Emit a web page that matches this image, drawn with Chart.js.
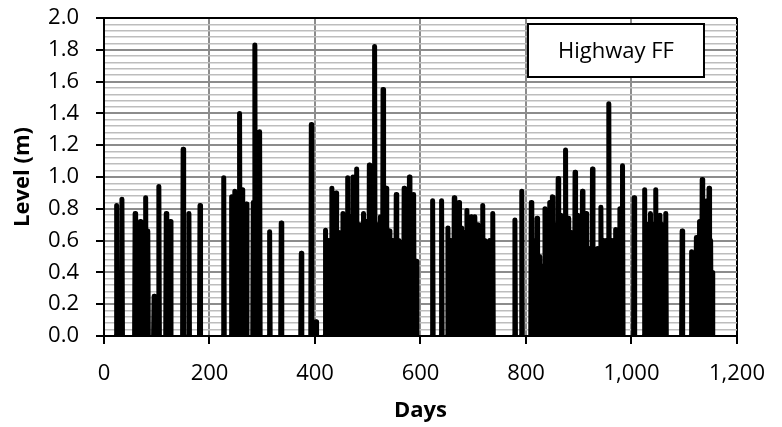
<!DOCTYPE html>
<html>
<head>
<meta charset="utf-8">
<script src="https://cdn.jsdelivr.net/npm/chart.js@4.4.1/dist/chart.umd.min.js"></script>
<style>
  body { margin: 0; background: #fff; }
</style>
</head>
<body>
<canvas id="levelChart" width="782" height="427"></canvas>
<script>
// Peak levels of each event (day, level in m)
const peakDays = [24, 34, 59, 69, 79, 83, 95, 104, 118, 126, 150, 161, 182,
  227, 242, 248, 257, 262, 270, 283, 286, 295, 314, 336, 374, 393, 402,
  420, 426, 432, 440, 446, 453, 458, 462, 467, 472, 479, 485, 492, 497, 503, 508, 513, 517, 521, 524, 529, 535, 541,
  547, 554, 558, 563, 569, 574, 579, 583, 587, 592,
  623, 640, 652, 657, 664, 668, 673, 678, 683, 688, 692, 696, 700, 703, 709, 713, 718, 721, 725, 731, 737,
  779, 792, 810, 815, 821, 826, 830, 836, 840, 845, 850, 855, 861, 866, 870, 875, 881, 886, 893, 898, 902, 907,
  910, 914, 919, 926, 931, 936, 942, 947, 952, 957, 962, 970, 975, 978, 983,
  1005, 1025, 1030, 1036, 1041, 1046, 1050, 1054, 1059, 1065, 1096,
  1114, 1118, 1123, 1129, 1134, 1139, 1143, 1147, 1150, 1153];
const peakLevels = [0.82, 0.86, 0.77, 0.72, 0.87, 0.66, 0.25, 0.94, 0.77, 0.72, 1.175, 0.77, 0.82,
  0.995, 0.876, 0.91, 1.40, 0.92, 0.83, 0.84, 1.83, 1.285, 0.656, 0.71, 0.52, 1.33, 0.09,
  0.665, 0.6, 0.93, 0.90, 0.65, 0.77, 0.7, 0.995, 0.75, 1.0, 1.05, 0.7, 0.77, 0.72, 1.075, 0.75, 1.82, 0.7, 0.70, 0.75, 1.55, 0.93, 0.66,
  0.6, 0.89, 0.6, 0.59, 0.93, 0.75, 1.0, 0.7, 0.89, 0.47,
  0.85, 0.85, 0.68, 0.6, 0.87, 0.7, 0.84, 0.68, 0.65, 0.79, 0.68, 0.75, 0.68, 0.75, 0.70, 0.65, 0.82, 0.6, 0.57, 0.6, 0.77,
  0.73, 0.91, 0.84, 0.6, 0.74, 0.5, 0.44, 0.80, 0.7, 0.84, 0.875, 0.7, 0.99, 0.76, 0.7, 1.17, 0.74, 0.65, 1.03, 0.76, 0.7, 0.91,
  0.65, 0.77, 0.55, 1.05, 0.5, 0.55, 0.81, 0.6, 0.6, 1.46, 0.6, 0.67, 0.6, 0.8, 1.07,
  0.87, 0.92, 0.7, 0.77, 0.7, 0.92, 0.7, 0.76, 0.7, 0.77, 0.66,
  0.53, 0.5, 0.62, 0.72, 0.985, 0.8, 0.85, 0.93, 0.6, 0.40];
const dryLevel = 0;

const xTicks = ['0', '200', '400', '600', '800', '1,000', '1,200'];
const yTicks = ['0.0', '0.2', '0.4', '0.6', '0.8', '1.0', '1.2', '1.4', '1.6', '1.8', '2.0'];
const seriesName = 'Highway FF';

// each event rises from dry the day before and falls back the day after
let points = [];
peakDays.forEach(function(d, i) {
    points.push({x: d - 1, y: dryLevel});
    points.push({x: d, y: peakLevels[i]});
    points.push({x: d + 1, y: dryLevel});
    points.push({x: d + 1, y: null});
});

function isMajor(v) {
    return Math.abs(v / 0.2 - Math.round(v / 0.2)) < 1e-6;
}

const boxLabel = {
    id: 'boxLabel',
    afterDraw(chart) {
        const c = chart.ctx;
        const a = chart.chartArea;
        const w = 176, h = 53;
        const x = a.right - 33 - w, y = a.top + 6;
        c.save();
        c.fillStyle = '#fff';
        c.fillRect(x, y, w, h);
        c.lineWidth = 2;
        c.strokeStyle = '#000';
        c.strokeRect(x, y, w, h);
        c.fillStyle = '#000';
        c.font = '22px "Open Sans"';
        c.textAlign = 'center';
        c.textBaseline = 'middle';
        c.fillText(seriesName, x + w / 2, y + h / 2 + 1);
        c.restore();
    }
};

Chart.defaults.font.family = '"Open Sans"';
Chart.defaults.color = '#000';

let ctx = document.getElementById('levelChart').getContext('2d');
let levelChart = new Chart(ctx, {
    type: 'line',
    data: {
        datasets: [{
            label: seriesName,
            data: points,
            borderColor: '#000',
            borderWidth: 5,
            borderCapStyle: 'round',
            borderJoinStyle: 'round',
            pointRadius: 0,
            tension: 0,
            spanGaps: false
        }]
    },
    options: {
        responsive: false,
        animation: false,
        devicePixelRatio: 1,
        layout: { padding: { top: 18, right: 44, left: 0, bottom: 0 } },
        plugins: {
            legend: { display: false },
            tooltip: { enabled: false }
        },
        scales: {
            x: {
                type: 'linear',
                min: 0,
                max: 1200,
                afterFit: function(s) { s.height = 91; },
                ticks: {
                    stepSize: 200,
                    padding: 17,
                    maxRotation: 0,
                    font: { size: 22 },
                    callback: function(v, i) { return xTicks[i]; }
                },
                grid: {
                    color: function(c) { return c.tick && c.tick.value === 1200 ? '#000' : '#8c8c8c'; },
                    lineWidth: 2,
                    tickLength: 8,
                    tickColor: '#000',
                    tickWidth: 2
                },
                border: { color: '#000', width: 2 },
                title: {
                    display: true,
                    text: 'Days',
                    font: { size: 22, weight: 'bold' },
                    padding: { top: 4, bottom: 3 }
                }
            },
            y: {
                min: 0,
                max: 2,
                afterFit: function(s) {
                    s.width = 104;
                    s.paddingTop = 0;
                    s.paddingBottom = 0;
                },
                ticks: {
                    stepSize: 0.04,
                    autoSkip: false,
                    padding: 17,
                    font: { size: 22 },
                    callback: function(v) {
                        return isMajor(v) ? yTicks[Math.round(v / 0.2)] : '';
                    }
                },
                grid: {
                    color: function(c) {
                        if (!c.tick) return '#8c8c8c';
                        if (Math.abs(c.tick.value - 2) < 1e-6) return '#000';
                        return isMajor(c.tick.value) ? '#8c8c8c' : '#bdbdbd';
                    },
                    lineWidth: function(c) {
                        return c.tick && isMajor(c.tick.value) ? 2 : 1.6;
                    },
                    tickLength: 8,
                    tickWidth: 2,
                    tickColor: function(c) {
                        return c.tick && isMajor(c.tick.value) ? '#000' : 'rgba(0,0,0,0)';
                    }
                },
                border: { color: '#000', width: 2 },
                title: {
                    display: true,
                    text: 'Level (m)',
                    font: { size: 22, weight: 'bold' },
                    padding: { top: 10, bottom: 10 }
                }
            }
        }
    },
    plugins: [boxLabel]
});
</script>
</body>
</html>
